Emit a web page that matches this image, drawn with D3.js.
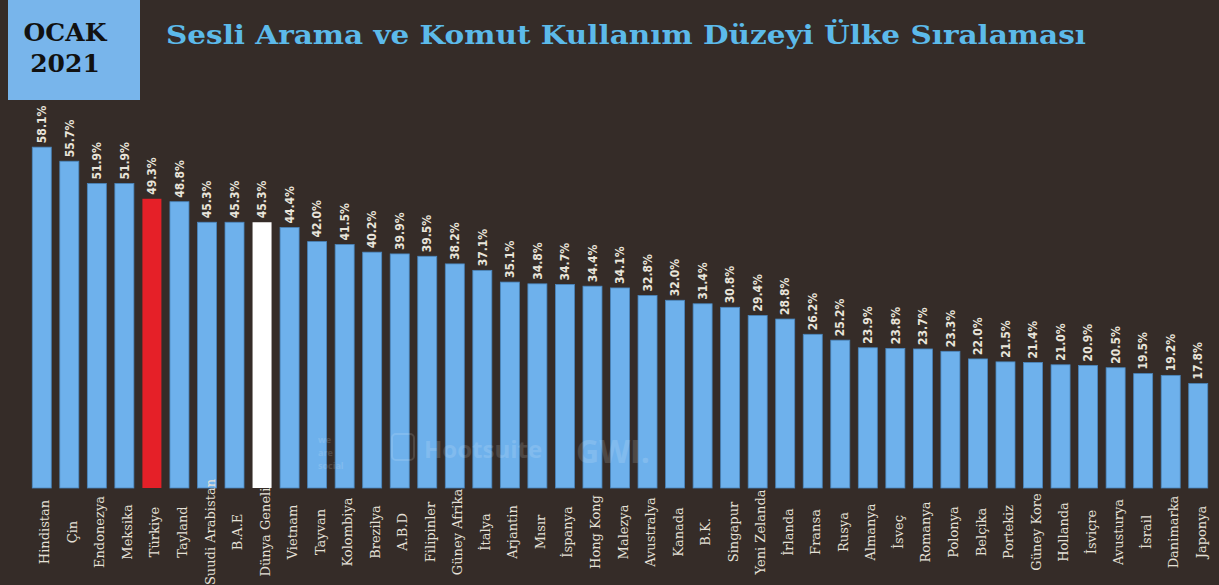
<!DOCTYPE html>
<html>
<head>
<meta charset="utf-8">
<script src="https://cdn.jsdelivr.net/npm/d3@7"></script>
<style>
  body { margin: 0; background: #352c28; overflow: hidden; }
</style>
</head>
<body>
<div id="chart"></div>
<script>
// Data
const countries = [
  "Hindistan", "Çin", "Endonezya", "Meksika", "Türkiye", "Tayland",
  "Suudi Arabistan", "B.A.E", "Dünya Geneli", "Vietnam", "Tayvan", "Kolombiya",
  "Brezilya", "A.B.D", "Filipinler", "Güney Afrika", "İtalya", "Arjantin",
  "Mısır", "İspanya", "Hong Kong", "Malezya", "Avustralya", "Kanada",
  "B.K.", "Singapur", "Yeni Zelanda", "İrlanda", "Fransa", "Rusya",
  "Almanya", "İsveç", "Romanya", "Polonya", "Belçika", "Portekiz",
  "Güney Kore", "Hollanda", "İsviçre", "Avusturya", "İsrail", "Danimarka", "Japonya"
];
const usage = [
  58.1, 55.7, 51.9, 51.9, 49.3, 48.8,
  45.3, 45.3, 45.3, 44.4, 42.0, 41.5,
  40.2, 39.9, 39.5, 38.2, 37.1, 35.1,
  34.8, 34.7, 34.4, 34.1, 32.8, 32.0,
  31.4, 30.8, 29.4, 28.8, 26.2, 25.2,
  23.9, 23.8, 23.7, 23.3, 22.0, 21.5,
  21.4, 21.0, 20.9, 20.5, 19.5, 19.2, 17.8
];
const redCountry = "Türkiye";
const whiteCountry = "Dünya Geneli";

const data = countries.map((c, i) => ({ country: c, value: usage[i] }));

const width = 1219;
const height = 585;

const svg = d3.select("#chart")
  .append("svg")
  .attr("width", width)
  .attr("height", height);

// background
svg.append("rect")
  .attr("width", width)
  .attr("height", height)
  .attr("fill", "#352c28");

// Scales
const x = d3.scaleBand()
  .domain(countries)
  .range([28, 1212])
  .paddingInner(0.31)
  .paddingOuter(0.155);

const y = d3.scaleLinear()
  .domain([0, 60])
  .range([488, 136]);

const fillFor = (d) =>
  d.country === redCountry ? "#e52028" :
  d.country === whiteCountry ? "#ffffff" : "#6eb1ec";

// Bars
svg.selectAll(".bar")
  .data(data)
  .enter()
  .append("rect")
  .attr("class", "bar")
  .attr("x", (d) => x(d.country))
  .attr("width", x.bandwidth())
  .attr("y", (d) => y(d.value))
  .attr("height", (d) => y(0) - y(d.value))
  .attr("fill", fillFor)
  .attr("stroke", (d) => d.country === redCountry || d.country === whiteCountry ? "none" : "#4a86bd")
  .attr("stroke-width", 0.8);

// Watermark (faint)
const wm = svg.append("g").attr("fill", "#ffffff").attr("opacity", 0.13);
wm.append("text").attr("x", 318).attr("y", 443)
  .style("font", "bold 9px 'Open Sans', sans-serif").text("we");
wm.append("text").attr("x", 318).attr("y", 456)
  .style("font", "bold 9px 'Open Sans', sans-serif").text("are");
wm.append("text").attr("x", 318).attr("y", 469)
  .style("font", "bold 9px 'Open Sans', sans-serif").text("social");
wm.append("rect").attr("x", 392).attr("y", 434).attr("width", 22).attr("height", 26).attr("rx", 4)
  .attr("fill", "none").attr("stroke", "#ffffff").attr("stroke-width", 2);
wm.append("text").attr("x", 424).attr("y", 458)
  .style("font", "bold 24px 'Open Sans', sans-serif").text("Hootsuite");
wm.append("text").attr("x", 576).attr("y", 463)
  .style("font", "bold 32px 'Open Sans', sans-serif").text("GWI.");

// Value labels
svg.selectAll(".val")
  .data(data)
  .enter()
  .append("text")
  .attr("class", "val")
  .attr("transform", (d) => `translate(${x(d.country) + x.bandwidth() / 2},${y(d.value) - 4}) rotate(-90)`)
  .attr("dy", "0.35em")
  .attr("text-anchor", "start")
  .attr("fill", "#e9e4da")
  .style("font-family", "'Liberation Sans Narrow', 'Arial Narrow', 'DejaVu Sans Condensed', sans-serif")
  .style("font-weight", "bold")
  .style("font-size", "12px")
  .text((d) => d3.format(".1f")(d.value) + "%");

// Category labels
svg.selectAll(".cat")
  .data(data)
  .enter()
  .append("text")
  .attr("class", "cat")
  .attr("transform", (d) => `translate(${x(d.country) + x.bandwidth() / 2 + 3},532) rotate(-90)`)
  .attr("dy", "0.35em")
  .attr("text-anchor", "middle")
  .attr("fill", "#e6e1d8")
  .style("font-family", "'DejaVu Serif', serif")
  .style("font-size", "13px")
  .text((d) => d.country);

// Date box
svg.append("rect")
  .attr("x", 8)
  .attr("y", 0)
  .attr("width", 132)
  .attr("height", 100)
  .attr("fill", "#78b5eb");

svg.append("text")
  .attr("x", 65)
  .attr("y", 41)
  .attr("text-anchor", "middle")
  .attr("fill", "#111111")
  .style("font-family", "'DejaVu Serif', serif")
  .style("font-weight", "bold")
  .style("font-size", "25px")
  .text("OCAK");

svg.append("text")
  .attr("x", 65)
  .attr("y", 72)
  .attr("text-anchor", "middle")
  .attr("fill", "#111111")
  .style("font-family", "'DejaVu Serif', serif")
  .style("font-weight", "bold")
  .style("font-size", "25px")
  .text("2021");

// Title
svg.append("text")
  .attr("x", 166)
  .attr("y", 44)
  .attr("fill", "#5cbaea")
  .attr("textLength", 920)
  .attr("lengthAdjust", "spacingAndGlyphs")
  .style("font-family", "'DejaVu Serif', serif")
  .style("font-weight", "bold")
  .style("font-size", "26px")
  .text("Sesli Arama ve Komut Kullanım Düzeyi Ülke Sıralaması");
</script>
</body>
</html>
